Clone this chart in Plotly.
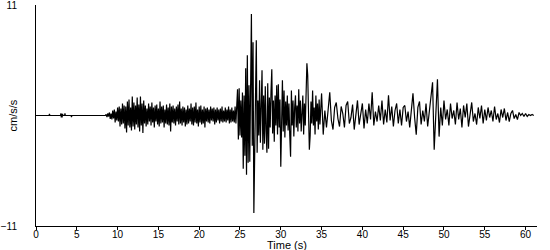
import plotly.graph_objects as go

# --- Data (time in s, acceleration in cm/s/s) ---
# Quiet pre-event part: explicit (time, value) pairs
quiet_t = [0.0, 1.6, 1.65, 1.7, 3.0, 3.05, 3.1, 3.15, 3.2, 3.25, 3.3, 3.5, 3.55, 3.6, 4.3, 4.35, 4.4, 8.5]
quiet_v = [0.0, 0.0, 0.15, 0.0, 0.0, 0.2, -0.2, 0.2, -0.2, 0.15, 0.0, 0.0, 0.2, 0.0, 0.0, -0.15, 0.0, 0.0]

# P / early S coda, sampled every 0.1 s from 8.6 s
coda_start = 8.6
coda_step = 0.1
coda_v = [
    0.1, -0.15, 0.2, -0.1, 0.3, -0.35, 0.2, -0.4, 0.5, -0.3,
    0.6, -0.7, 0.4, -0.5, 0.8, -0.6, 0.9, -1.1, 0.7, -0.9,
    1.2, -0.8, 1.0, -1.3, 0.9, -1.7, 1.4, -1.0, 1.6, -1.2,
    0.8, -1.5, 1.9, -1.1, 1.3, -1.4, 1.0, -0.9, 1.8, -1.2,
    1.1, -1.6, 1.9, -1.0, 1.2, -1.75, 1.5, -0.8, 1.0, -1.1,
    0.7, -0.9, 1.2, -0.6, 0.9, -1.0, 1.3, -0.7, 0.8, -1.2,
    1.0, -0.6, 1.1, -0.9, 0.7, -1.1, 1.4, -0.8, 0.9, -0.7,
    1.0, -1.2, 0.6, -0.8, 1.1, -0.9, 0.8, -1.0, 1.2, -1.6,
    0.9, -0.7, 1.0, -0.8, 0.7, -1.0, 0.9, -0.6, 1.1, -0.9,
    1.4, -0.8, 0.7, -1.0, 0.9, -0.7, 0.8, -1.1, 0.6, -0.9,
    1.0, -0.8, 0.7, -0.6, 1.2, -0.9, 0.8, -1.0, 0.9, -0.7,
    1.3, -0.8, 0.6, -1.1, 0.9, -0.7, 1.0, -0.9, 0.6, -0.8,
    0.9, -1.2, 0.7, -0.6, 0.8, -0.7, 0.6, -0.8, 0.9, -0.5,
    0.7, -0.6, 0.8, -0.9, 0.6, -0.7, 0.8, -0.5, 0.6, -0.8,
    0.7, -0.6, 0.9, -0.7, 0.5, -0.6, 0.8, -0.7, 0.6, -0.5,
    0.9, -0.8, 0.6, -0.7, 0.8, -0.6, 0.5, -0.7, 0.9, -0.8,
    0.6, 2.6, -2.4, 2.7, -2.0,
]

# Strong motion, sampled every 0.1 s from 25.1 s
strong_start = 25.1
strong_step = 0.1
strong_v = [
    1.5, -2.2, 2.3, -5.3, 2.0, -4.0, 4.7, -5.9, 6.0, -4.7,
    3.0, -4.6, 2.5, 10.1, -3.0, 7.3, -9.7, -2.5, 3.0, 7.5,
    -3.7, 1.5, -2.0, 3.5, -2.7, 1.0, 4.5, -3.4, 2.0, -2.8,
    2.9, -1.5, -3.7, 3.2, -3.3, 1.8, -1.2, 2.4, 4.6, -1.8,
    1.5, -2.6, 2.0, -1.0, 3.0, -1.9, 3.1, -1.2, 1.6, -5.1,
    -2.0, 3.5, -1.6, 2.5, -2.2, 1.4, -1.0, 2.0, -1.5, 1.2,
    -2.0, -4.1, 2.5, -1.0, 1.5, -2.1, 0.8, 2.0, -1.2, 1.0,
    -1.6, 2.6, -0.8, 1.5, -1.6, 0.6, 2.0, -1.9, 1.2, -1.0,
    2.2, 5.2, 4.0, -1.5, -3.4, -2.0, 1.4, -0.8, 2.5, -1.0,
    0.8, -1.9, 2.0, -0.6, 1.2, -1.4, 1.6, -0.9, 0.7, 2.2,
]

# Later surface-wave coda, sampled every 0.2 s from 35.2 s
late_start = 35.2
late_step = 0.2
late_v = [
    -1.9, 0.5, -1.2, 1.0, 2.3, -0.5, -1.4, 0.8, 1.3, -0.3,
    -1.1, 0.9, 0.2, -1.2, 1.0, 1.4, -0.8, -0.2, 1.1, -1.4,
    0.4, 1.5, -0.9, 0.3, 1.2, -1.3, 0.6, -0.8, 1.2, -0.4,
    2.3, -1.0, 0.4, -0.6, 1.0, -0.5, 1.5, -0.9, 0.6, -0.7,
    2.0, -0.5, 0.9, -1.1, 0.5, 1.2, -0.8, 0.6, -1.0, 0.8,
    1.0, -0.6, 0.4, -1.2, 0.7, 2.2, -0.2, -1.9, 0.8, 1.4,
    -0.9, 0.5, -0.6, 1.2, -1.1, 0.3, 1.4, 3.3, -3.4, 0.5,
    3.6, -2.1, 0.8, -1.0, 1.5, -0.4, 0.6, -1.0, 1.2, -0.3,
    0.5, -0.9, 1.3, -0.4, 0.7, -1.2, 1.0, -0.2, 1.2, -1.1,
    0.3, 1.3, -0.6, 0.2, -0.9, 0.8, -0.3, 1.0, -0.8, 0.6,
    -0.5, 0.8, -0.2, 0.5, -0.6, 0.9, -0.4, 0.2, -0.7, 0.6,
    -0.2, 0.7, -0.5, 0.3, -0.6, 0.2, 0.5, -0.3, 0.1, -0.4,
    0.3, 0.0, 0.2, -0.1, 0.2, -0.1, 0.1, 0.0, 0.1, 0.0,
]

x_tick_vals = [0, 5, 10, 15, 20, 25, 30, 35, 40, 45, 50, 55, 60]
y_tick_vals = [-11, 11]
x_title = "Time (s)"
y_title = "cm/s/s"

# --- Assemble the sampled series ---
t = list(quiet_t)
a = list(quiet_v)
for start, step, vals in [(coda_start, coda_step, coda_v),
                          (strong_start, strong_step, strong_v),
                          (late_start, late_step, late_v)]:
    t += [round(start + i * step, 3) for i in range(len(vals))]
    a += vals

fig = go.Figure(go.Scatter(x=t, y=a, mode="lines",
                           line=dict(color="black", width=1.2),
                           hoverinfo="skip"))

font = dict(family="Liberation Sans, Arial, sans-serif", size=10, color="black")
title_font = dict(family="Liberation Sans, Arial, sans-serif", size=11, color="black")

fig.update_layout(
    width=550, height=250,
    margin=dict(l=36, r=13, t=5, b=24, autoexpand=False),
    paper_bgcolor="white", plot_bgcolor="white",
    showlegend=False, font=font,
    annotations=[
        dict(text=x_title, xref="paper", yref="paper", x=0.5, y=0,
             yshift=-19, xanchor="center", yanchor="middle",
             showarrow=False, font=title_font),
        dict(text=y_title, xref="paper", yref="paper", x=0, y=0.5,
             xshift=-24, xanchor="center", yanchor="middle", textangle=-90,
             showarrow=False, font=title_font),
    ],
)
fig.update_xaxes(
    range=[0, 61.4], tickvals=x_tick_vals, ticks="outside", ticklen=3,
    tickcolor="black", showline=True, linecolor="black", linewidth=1,
    showgrid=False, zeroline=False, automargin=False,
    ticklabeloverflow="allow", ticklabelstandoff=-4,
)
fig.update_yaxes(
    range=[-11, 11], tickvals=y_tick_vals, ticks="", ticklabelstandoff=16,
    ticklabeloverflow="allow",
    showline=True, linecolor="black", linewidth=1,
    showgrid=False, zeroline=False, automargin=False,
)

fig.write_html("out.html")
